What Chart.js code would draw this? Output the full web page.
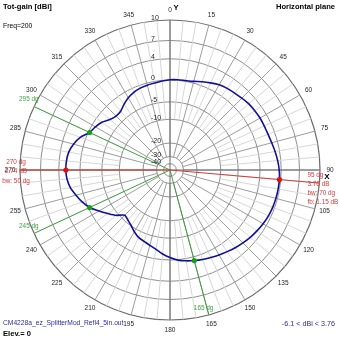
<!DOCTYPE html>
<html>
<head>
<meta charset="utf-8">
<script src="https://cdn.jsdelivr.net/npm/chart.js@4/dist/chart.umd.min.js"></script>
<style>
  html, body { margin: 0; padding: 0; background: #ffffff; }
  canvas { display: block; }
</style>
</head>
<body>
<canvas id="plot" width="339" height="339"></canvas>
<script>
// Azimuth in compass degrees (0 = top, clockwise), 5 degree steps
const azimuthDeg = [
  0, 5, 10, 15, 20, 25, 30, 35, 40, 45, 50, 55,
  60, 65, 70, 75, 80, 85, 90, 95, 100, 105, 110, 115,
  120, 125, 130, 135, 140, 145, 150, 155, 160, 165, 170, 175,
  180, 185, 190, 195, 200, 205, 210, 215, 220, 225, 230, 235,
  240, 245, 250, 255, 260, 265, 270, 275, 280, 285, 290, 295,
  300, 305, 310, 315, 320, 325, 330, 335, 340, 345, 350, 355
];

// Total gain in dBi at each azimuth
const gainDbi = [
  0.05, 0.12, 0.15, 0.35, 0.80, 1.22, 1.65, 1.90, 2.05, 2.25, 2.50, 2.62,
  2.70, 2.72, 2.78, 2.95, 3.20, 3.45, 3.65, 3.76, 3.75, 3.72, 3.66, 3.55,
  3.35, 3.10, 2.85, 2.55, 2.25, 1.90, 1.60, 1.30, 1.05, 0.76, 0.45, 0.10,
  -0.50, -1.20, -2.00, -2.60, -3.10, -3.45, -4.20, -5.10, -5.70, -6.10, -4.40, -3.10,
  -1.70, -0.26, 0.70, 1.45, 2.20, 2.60, 2.74, 2.70, 2.50, 1.95, 1.10, -0.26,
  -0.80, -1.45, -2.50, -3.00, -2.90, -2.10, -1.40, -0.90, -0.60, -0.45, -0.35, -0.15
];

// Gain rings of the log-style radial scale (dBi)
const ringDbi = [10, 7, 4, 0, -5, -10, -20, -30, -40];
const outerDbi = 10;

// Lobe peaks with their beamwidths, and the half-power directions
const peakAz = [95, 270];
const peakBeamwidthDeg = [70, 50];
const frontToBackDb = 1.15;
const halfPowerAz = [295, 245, 165];

const titleLeft = 'Tot-gain [dBi]';
const titleRight = 'Horizontal plane';
const freqText = 'Freq=200';
const fileText = 'CM4228a_ez_SplitterMod_Refl4_5in.out';
const elevText = 'Elev.= 0';

// Compressed log radius: fraction of the outer ring for a gain in dBi
function toRadius(db) {
  const d = outerDbi - db;
  return Math.exp(-(0.04803 * d + 0.000305 * d * d));
}

const FONT = '"Liberation Sans", Arial, sans-serif';
const RED = '#d23a3a';
const GREEN = '#3f9f3f';

function text(ctx, str, x, y, font, color, align) {
  ctx.font = font;
  ctx.fillStyle = color;
  ctx.textAlign = align || 'left';
  ctx.textBaseline = 'middle';
  ctx.fillText(str, x, y);
}

const polarDecor = {
  id: 'polarDecor',
  beforeDatasetsDraw(chart) {
    const s = chart.scales.r;
    const ctx = chart.ctx;
    const R = s.drawingArea;
    ctx.save();
    // spokes every 5 degrees, heavier every 15
    azimuthDeg.forEach((az, i) => {
      const major = az % 15 === 0;
      const inner = s.getDistanceFromCenterForValue(toRadius(major ? -30 : -10));
      const a = s.getPointPosition(i, inner);
      const b = s.getPointPosition(i, R);
      ctx.beginPath();
      ctx.moveTo(a.x, a.y);
      ctx.lineTo(b.x, b.y);
      ctx.strokeStyle = major ? '#9c9c9c' : '#d6d6d6';
      ctx.lineWidth = 1;
      ctx.stroke();
    });
    // main axes
    [[0, 36], [18, 54]].forEach(([i, j]) => {
      const a = s.getPointPosition(i, R);
      const b = s.getPointPosition(j, R);
      ctx.beginPath();
      ctx.moveTo(a.x, a.y);
      ctx.lineTo(b.x, b.y);
      ctx.strokeStyle = '#6a6a6a';
      ctx.lineWidth = 1;
      ctx.stroke();
    });
    // direction lines to the peaks and half-power points
    const dirLine = (az, color) => {
      const i = azimuthDeg.indexOf(az);
      const b = s.getPointPosition(i, R);
      ctx.beginPath();
      ctx.moveTo(s.xCenter, s.yCenter);
      ctx.lineTo(b.x, b.y);
      ctx.strokeStyle = color;
      ctx.lineWidth = 1;
      ctx.stroke();
    };
    halfPowerAz.forEach(az => dirLine(az, GREEN));
    peakAz.forEach(az => dirLine(az, RED));
    ctx.restore();
  },
  afterDraw(chart) {
    const s = chart.scales.r;
    const ctx = chart.ctx;
    const R = s.drawingArea;
    const cx = s.xCenter, cy = s.yCenter;
    const tiny = '6.5px ' + FONT;
    const small = '7px ' + FONT;
    const note = '6.4px ' + FONT;
    const bold = 'bold 7.6px ' + FONT;
    ctx.save();
    // azimuth labels
    azimuthDeg.forEach((az, i) => {
      if (az % 15 !== 0) return;
      const p = s.getPointPosition(i, R + 10);
      text(ctx, String(az), p.x, p.y, tiny, '#1e1e1e', 'center');
    });
    // gain ring labels
    ringDbi.forEach(v => {
      const r = s.getDistanceFromCenterForValue(toRadius(v));
      text(ctx, String(v), cx - 19, cy - r - 1.5, small, '#1e1e1e', 'left');
    });
    // half-power labels
    halfPowerAz.forEach(az => {
      const p = s.getPointPosition(azimuthDeg.indexOf(az), R);
      text(ctx, az + ' dg', p.x - 15, p.y - 7, note, GREEN, 'left');
    });
    // peak labels
    peakAz.forEach((az, k) => {
      const i = azimuthDeg.indexOf(az);
      const p = s.getPointPosition(i, R);
      const lines = [az + ' dg', gainDbi[i].toFixed(2) + ' dB', 'bw: ' + peakBeamwidthDeg[k] + ' dg'];
      if (k === 0) lines.push('fb: ' + frontToBackDb.toFixed(2) + ' dB');
      lines.forEach((t, n) => {
        if (k === 0) text(ctx, t, p.x - 12, p.y - 8 + n * 9, note, RED, 'left');
        else text(ctx, t, p.x - 4, p.y - 8 + n * 9.5, note, RED, 'center');
      });
    });
    // axis letters
    text(ctx, 'Y', cx + 6, 8, bold, '#000', 'center');
    text(ctx, 'X', cx + 157, cy + 7, 'bold 8px ' + FONT, '#000', 'center');
    // headers and footers
    text(ctx, titleLeft, 3, 7, bold, '#000', 'left');
    text(ctx, titleRight, 335, 7, bold, '#000', 'right');
    text(ctx, freqText, 3, 26, '6.8px ' + FONT, '#000', 'left');
    text(ctx, fileText, 3, 323, '6.7px ' + FONT, '#2c2c9c', 'left');
    text(ctx, elevText, 3, 334, bold, '#000', 'left');
    const lo = Math.min(...gainDbi), hi = Math.max(...gainDbi);
    text(ctx, String(lo) + ' < dBi < ' + String(hi), 335, 324, '7.2px ' + FONT, '#2c2c9c', 'right');
    ctx.restore();
  }
};

new Chart(document.getElementById('plot'), {
  type: 'radar',
  data: {
    labels: azimuthDeg.map(String),
    datasets: [
      {
        label: 'peaks',
        data: azimuthDeg.map((az, i) => peakAz.includes(az) ? toRadius(gainDbi[i]) : null),
        showLine: false,
        borderColor: 'rgba(0,0,0,0)',
        fill: false,
        pointRadius: 2.6,
        pointBackgroundColor: '#e01010',
        pointBorderWidth: 0,
        order: 0
      },
      {
        label: 'half-power',
        data: azimuthDeg.map((az, i) => halfPowerAz.includes(az) ? toRadius(gainDbi[i]) : null),
        showLine: false,
        borderColor: 'rgba(0,0,0,0)',
        fill: false,
        pointRadius: 2.6,
        pointBackgroundColor: '#14a014',
        pointBorderWidth: 0,
        order: 1
      },
      {
        label: 'Tot-gain',
        data: gainDbi.map(toRadius),
        borderColor: '#10109a',
        borderWidth: 1.6,
        fill: false,
        pointRadius: 0,
        tension: 0.25,
        order: 2
      }
    ]
  },
  options: {
    responsive: false,
    animation: false,
    layout: { padding: { left: 20, right: 19, top: 20, bottom: 19 } },
    plugins: { legend: { display: false }, tooltip: { enabled: false } },
    scales: {
      r: {
        min: 0,
        max: 1,
        startAngle: 0,
        angleLines: { display: false },
        pointLabels: { display: false },
        ticks: { display: false },
        grid: {
          circular: true,
          color: c => (c.tick && c.tick.value >= 0.999) ? '#6a6a6a' : '#8e8e8e',
          lineWidth: c => (c.tick && c.tick.value >= 0.999) ? 1.2 : 1
        },
        afterBuildTicks: scale => {
          scale.ticks = [{ value: 0 }].concat(ringDbi.slice().reverse().map(v => ({ value: toRadius(v) })));
        }
      }
    }
  },
  plugins: [polarDecor]
});
</script>
</body>
</html>
